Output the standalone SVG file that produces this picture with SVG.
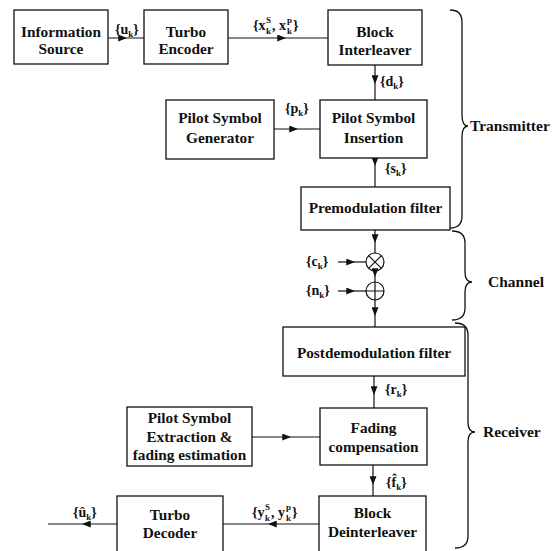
<svg xmlns="http://www.w3.org/2000/svg" width="554" height="551" viewBox="0 0 554 551">
<style>
text{font-family:"Liberation Serif","DejaVu Serif","Noto Serif",serif;font-weight:bold;fill:#111}
.lab{font-size:15.3px;text-anchor:middle}
.m{font-size:14px}
.s{font-size:9px}
.big{font-size:15.5px}
.box{fill:#fff;stroke:#111;stroke-width:1.3}
.ln{fill:none;stroke:#111;stroke-width:1.2}
.br{fill:none;stroke:#111;stroke-width:1.3}
</style>
<defs>
<marker id="ah" viewBox="0 0 10 8" refX="10" refY="4" markerWidth="9" markerHeight="7" markerUnits="userSpaceOnUse" orient="auto"><path d="M0,0 L10,4 L0,8 z" fill="#111"/></marker>
</defs>
<rect width="554" height="551" fill="#fff"/>

<g id="connectors">
<path class="ln" d="M108,38 L127,38 L144,38" marker-mid="url(#ah)"/>
<path class="ln" d="M228,38 L286,38 L328,38" marker-mid="url(#ah)"/>
<path class="ln" d="M375,65 L375,84 L375,100" marker-mid="url(#ah)"/>
<path class="ln" d="M274,129 L298,129 L320,129" marker-mid="url(#ah)"/>
<path class="ln" d="M375,158 L375,166 L375,187" marker-mid="url(#ah)"/>
<path class="ln" d="M375,230 L375,243 L375,253" marker-mid="url(#ah)"/>
<path class="ln" d="M375,271 L375,277 L375,282" marker-mid="url(#ah)"/>
<path class="ln" d="M375,300 L375,316 L375,327" marker-mid="url(#ah)"/>
<path class="ln" d="M338,262 L355,262 L366,262" marker-mid="url(#ah)"/>
<path class="ln" d="M338,291 L355,291 L366,291" marker-mid="url(#ah)"/>
<path class="ln" d="M374,376 L374,395 L374,408" marker-mid="url(#ah)"/>
<path class="ln" d="M252,437 L291,437 L320,437" marker-mid="url(#ah)"/>
<path class="ln" d="M373,465 L373,485 L373,496" marker-mid="url(#ah)"/>
<path class="ln" d="M319,524 L268,524 L223,524" marker-mid="url(#ah)"/>
<path class="ln" d="M117,524 L82,524 L48,524" marker-mid="url(#ah)"/>
</g>

<g id="labels">
<text class="m" x="115" y="34">{u<tspan class="s" dy="3">k</tspan><tspan dy="-3">}</tspan></text>
<text class="m" x="253" y="30">{x</text><text class="s" x="266" y="23">S</text><text class="s" x="266" y="34">k</text><text class="m" x="272" y="30">, x</text><text class="s" x="287" y="23">p</text><text class="s" x="287" y="34">k</text><text class="m" x="293" y="30">}</text>
<text class="m" x="380" y="86">{d<tspan class="s" dy="3">k</tspan><tspan dy="-3">}</tspan></text>
<text class="m" x="285" y="113">{p<tspan class="s" dy="3">k</tspan><tspan dy="-3">}</tspan></text>
<text class="m" x="385" y="173">{s<tspan class="s" dy="3">k</tspan><tspan dy="-3">}</tspan></text>
<text class="m" x="306" y="266">{c<tspan class="s" dy="3">k</tspan><tspan dy="-3">}</tspan></text>
<text class="m" x="306" y="295">{n<tspan class="s" dy="3">k</tspan><tspan dy="-3">}</tspan></text>
<text class="m" x="385" y="394">{r<tspan class="s" dy="3">k</tspan><tspan dy="-3">}</tspan></text>
<text class="m" x="386" y="487">{f̂<tspan class="s" dy="3">k</tspan><tspan dy="-3">}</tspan></text>
<text class="m" x="252" y="517">{y</text><text class="s" x="265" y="510">S</text><text class="s" x="265" y="521">k</text><text class="m" x="271" y="517">, y</text><text class="s" x="286" y="510">p</text><text class="s" x="286" y="521">k</text><text class="m" x="292" y="517">}</text>
<text class="m" x="73" y="517">{û<tspan class="s" dy="3">k</tspan><tspan dy="-3">}</tspan></text>
</g>

<g id="info-source"><rect class="box" x="14" y="10" width="94" height="54"/><text class="lab" x="61" y="37">Information</text><text class="lab" x="61" y="54">Source</text></g>
<g id="turbo-encoder"><rect class="box" x="144" y="10" width="84" height="54"/><text class="lab" x="186" y="37">Turbo</text><text class="lab" x="186" y="54">Encoder</text></g>
<g id="block-interleaver"><rect class="box" x="328" y="10" width="94" height="55"/><text class="lab" x="375" y="37">Block</text><text class="lab" x="375" y="55">Interleaver</text></g>
<g id="pilot-generator"><rect class="box" x="166" y="100" width="108" height="59"/><text class="lab" x="220" y="123">Pilot Symbol</text><text class="lab" x="220" y="143">Generator</text></g>
<g id="pilot-insertion"><rect class="box" x="320" y="100" width="107" height="58"/><text class="lab" x="373.5" y="123">Pilot Symbol</text><text class="lab" x="373.5" y="143">Insertion</text></g>
<g id="premod-filter"><rect class="box" x="301" y="187" width="149" height="43"/><text class="lab" x="375.5" y="213">Premodulation filter</text></g>
<g id="multiplier"><circle class="ln" cx="375" cy="262" r="9"/><path class="ln" d="M368.6,255.6 L381.4,268.4 M381.4,255.6 L368.6,268.4"/></g>
<g id="adder"><circle class="ln" cx="375" cy="291" r="9"/><path class="ln" d="M366,291 L384,291 M375,282 L375,300"/></g>
<g id="postdemod-filter"><rect class="box" x="283" y="327" width="182" height="49"/><text class="lab" x="374" y="358">Postdemodulation filter</text></g>
<g id="pilot-extraction"><rect class="box" x="127" y="407" width="125" height="59"/><text class="lab" x="189.5" y="423">Pilot Symbol</text><text class="lab" x="189.5" y="442">Extraction &amp;</text><text class="lab" x="189.5" y="460">fading estimation</text></g>
<g id="fading-compensation"><rect class="box" x="320" y="408" width="107" height="57"/><text class="lab" x="373.5" y="433">Fading</text><text class="lab" x="373.5" y="452">compensation</text></g>
<g id="block-deinterleaver"><rect class="box" x="319" y="496" width="107" height="70"/><text class="lab" x="372.5" y="518">Block</text><text class="lab" x="372.5" y="537">Deinterleaver</text></g>
<g id="turbo-decoder"><rect class="box" x="117" y="496" width="106" height="70"/><text class="lab" x="170" y="520">Turbo</text><text class="lab" x="170" y="538">Decoder</text></g>

<g id="transmitter-brace"><path class="br" d="M450,10 Q462,10 462,22 L462,115 Q462,126 468,126 Q462,126 462,137 L462,216 Q462,228 450,228"/><text class="big" x="470" y="131">Transmitter</text></g>
<g id="channel-brace"><path class="br" d="M452,231 Q465,231 465,243 L465,272 Q465,282 472,282 Q465,282 465,292 L465,308 Q465,320 452,320"/><text class="big" x="488" y="287">Channel</text></g>
<g id="receiver-brace"><path class="br" d="M455,323 Q468,323 468,335 L468,422 Q468,432 475,432 Q468,432 468,442 L468,536 Q468,548 455,548"/><text class="big" x="483" y="437">Receiver</text></g>
</svg>
